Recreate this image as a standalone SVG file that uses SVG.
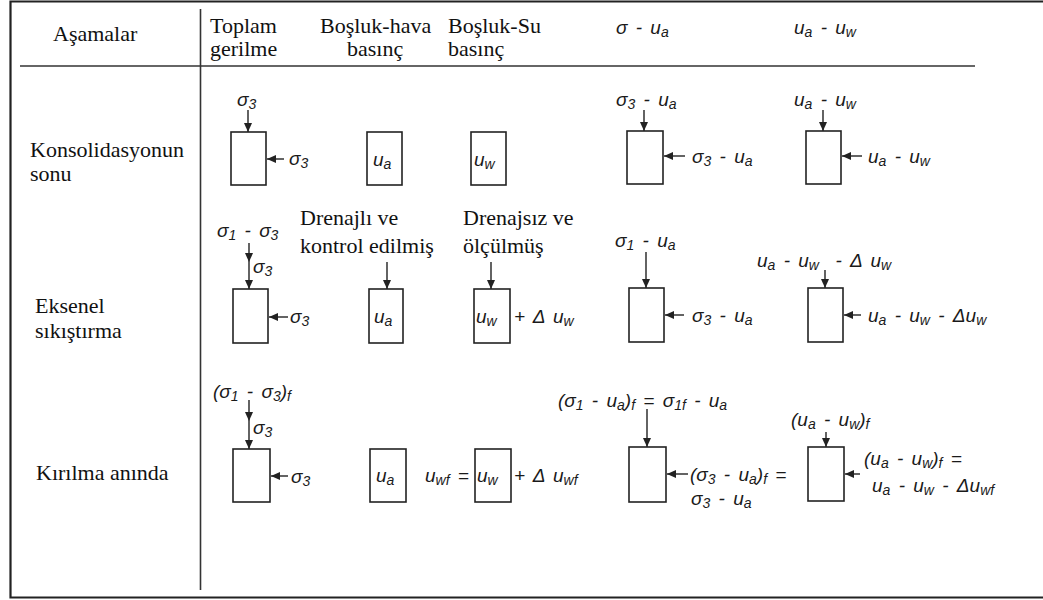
<svg xmlns="http://www.w3.org/2000/svg" width="1043" height="600" viewBox="0 0 1043 600">
<style>
.s{font-family:"Liberation Serif","Times New Roman",serif;font-size:22px;fill:#111}
.m{font-family:"Liberation Sans",Arial,sans-serif;font-style:italic;font-size:19px;fill:#1a1a1a;white-space:pre;word-spacing:3px}
.sb{font-size:14px}
.box{fill:none;stroke:#222;stroke-width:1.6}
.frame{stroke:#222;stroke-width:2.2;fill:none}
.rule{stroke:#333;stroke-width:1.6;fill:none}
.arr{stroke:#222;stroke-width:1.4;fill:none;marker-end:url(#ah)}
</style>
<defs>
<marker id="ah" markerUnits="userSpaceOnUse" markerWidth="9" markerHeight="8" refX="9" refY="4" orient="auto">
<path d="M0,0 L9,4 L0,8 z" fill="#222"/>
</marker>
</defs>
<rect width="1043" height="600" fill="#fff"/>
<g id="frame">
<path class="frame" d="M1043,1.5 H10.5 V597.5 H1043"/>
<line class="rule" x1="20" y1="66" x2="975" y2="66"/>
<line class="rule" x1="200.5" y1="9" x2="200.5" y2="590"/>
</g>
<g id="header">
<text class="s" x="53" y="41">Aşamalar</text>
<text class="s" x="210" y="33">Toplam</text>
<text class="s" x="210" y="56">gerilme</text>
<text class="s" x="320" y="33">Boşluk-hava</text>
<text class="s" x="347" y="56">basınç</text>
<text class="s" x="448" y="33">Boşluk-Su</text>
<text class="s" x="448" y="56">basınç</text>
<text class="m" x="616" y="34">σ - u<tspan class="sb" dy="3">a</tspan></text>
<text class="m" x="794" y="34">u<tspan class="sb" dy="3">a</tspan><tspan dy="-3"> - u</tspan><tspan class="sb" dy="3">w</tspan></text>
</g>
<g id="row-labels">
<text class="s" x="30" y="157">Konsolidasyonun</text>
<text class="s" x="30" y="181">sonu</text>
<text class="s" x="35" y="313">Eksenel</text>
<text class="s" x="35" y="338">sıkıştırma</text>
<text class="s" x="36" y="480">Kırılma anında</text>
</g>
<g id="connectors">
<line class="arr" x1="248" y1="110" x2="248" y2="132"/>
<line class="arr" x1="284" y1="159" x2="267" y2="159"/>
<line class="arr" x1="644" y1="110" x2="644" y2="131"/>
<line class="arr" x1="685" y1="156" x2="664" y2="156"/>
<line class="arr" x1="823" y1="110" x2="823" y2="131"/>
<line class="arr" x1="862" y1="156" x2="842" y2="156"/>
<line class="arr" x1="249" y1="243" x2="249" y2="262"/>
<line class="arr" x1="249" y1="262" x2="249" y2="289"/>
<line class="arr" x1="288" y1="317" x2="269" y2="317"/>
<line class="arr" x1="387" y1="262" x2="387" y2="289"/>
<line class="arr" x1="491" y1="262" x2="491" y2="289"/>
<line class="arr" x1="646" y1="252" x2="646" y2="288"/>
<line class="arr" x1="684" y1="315" x2="665" y2="315"/>
<line class="arr" x1="825" y1="270" x2="825" y2="288"/>
<line class="arr" x1="861" y1="315" x2="844" y2="315"/>
<line class="arr" x1="249" y1="400" x2="249" y2="421"/>
<line class="arr" x1="249" y1="421" x2="249" y2="449"/>
<line class="arr" x1="288" y1="476" x2="271" y2="476"/>
<line class="arr" x1="647" y1="409" x2="647" y2="447"/>
<line class="arr" x1="688" y1="474" x2="667" y2="474"/>
<line class="arr" x1="826" y1="432" x2="826" y2="447"/>
<line class="arr" x1="860" y1="474" x2="845" y2="474"/>
</g>
<g id="r1-total">
<rect class="box" x="231" y="132" width="35" height="53"/>
<text class="m" x="237" y="106">σ<tspan class="sb" dy="3">3</tspan></text>
<text class="m" x="289" y="165">σ<tspan class="sb" dy="3">3</tspan></text>
</g>
<g id="r1-air">
<rect class="box" x="367" y="132" width="35" height="53"/>
<text class="m" x="373" y="166">u<tspan class="sb" dy="3">a</tspan></text>
</g>
<g id="r1-water">
<rect class="box" x="471" y="132" width="35" height="53"/>
<text class="m" x="474" y="166">u<tspan class="sb" dy="3">w</tspan></text>
</g>
<g id="r1-net">
<rect class="box" x="627" y="131" width="36" height="53"/>
<text class="m" x="616" y="106">σ<tspan class="sb" dy="3">3</tspan><tspan dy="-3"> - u</tspan><tspan class="sb" dy="3">a</tspan></text>
<text class="m" x="692" y="163">σ<tspan class="sb" dy="3">3</tspan><tspan dy="-3"> - u</tspan><tspan class="sb" dy="3">a</tspan></text>
</g>
<g id="r1-suction">
<rect class="box" x="806" y="131" width="35" height="53"/>
<text class="m" x="794" y="106">u<tspan class="sb" dy="3">a</tspan><tspan dy="-3"> - u</tspan><tspan class="sb" dy="3">w</tspan></text>
<text class="m" x="868" y="163">u<tspan class="sb" dy="3">a</tspan><tspan dy="-3"> - u</tspan><tspan class="sb" dy="3">w</tspan></text>
</g>
<g id="r2-total">
<rect class="box" x="233" y="289" width="35" height="54"/>
<text class="m" x="217" y="237">σ<tspan class="sb" dy="3">1</tspan><tspan dy="-3"> - σ</tspan><tspan class="sb" dy="3">3</tspan></text>
<text class="m" x="253" y="273">σ<tspan class="sb" dy="3">3</tspan></text>
<text class="m" x="290" y="323">σ<tspan class="sb" dy="3">3</tspan></text>
</g>
<g id="r2-air">
<rect class="box" x="369" y="289" width="34" height="54"/>
<text class="s" x="300" y="225">Drenajlı ve</text>
<text class="s" x="300" y="253">kontrol edilmiş</text>
<text class="m" x="374" y="323">u<tspan class="sb" dy="3">a</tspan></text>
</g>
<g id="r2-water">
<rect class="box" x="474" y="289" width="36" height="54"/>
<text class="s" x="463" y="225">Drenajsız ve</text>
<text class="s" x="463" y="253">ölçülmüş</text>
<text class="m" x="476" y="323">u<tspan class="sb" dy="3">w</tspan></text>
<text class="m" x="514" y="323">+ Δ u<tspan class="sb" dy="3">w</tspan></text>
</g>
<g id="r2-net">
<rect class="box" x="629" y="288" width="35" height="54"/>
<text class="m" x="615" y="247">σ<tspan class="sb" dy="3">1</tspan><tspan dy="-3"> - u</tspan><tspan class="sb" dy="3">a</tspan></text>
<text class="m" x="692" y="322">σ<tspan class="sb" dy="3">3</tspan><tspan dy="-3"> - u</tspan><tspan class="sb" dy="3">a</tspan></text>
</g>
<g id="r2-suction">
<rect class="box" x="808" y="288" width="35" height="54"/>
<text class="m" x="757" y="267">u<tspan class="sb" dy="3">a</tspan><tspan dy="-3"> - u</tspan><tspan class="sb" dy="3">w</tspan><tspan dy="-3">  - Δ u</tspan><tspan class="sb" dy="3">w</tspan></text>
<text class="m" x="868" y="322">u<tspan class="sb" dy="3">a</tspan><tspan dy="-3"> - u</tspan><tspan class="sb" dy="3">w</tspan><tspan dy="-3"> - Δu</tspan><tspan class="sb" dy="3">w</tspan></text>
</g>
<g id="r3-total">
<rect class="box" x="233" y="449" width="37" height="53"/>
<text class="m" x="213" y="398">(σ<tspan class="sb" dy="3">1</tspan><tspan dy="-3"> - σ</tspan><tspan class="sb" dy="3">3</tspan><tspan dy="-3">)</tspan><tspan class="sb" dy="3">f</tspan></text>
<text class="m" x="253" y="434">σ<tspan class="sb" dy="3">3</tspan></text>
<text class="m" x="291" y="483">σ<tspan class="sb" dy="3">3</tspan></text>
</g>
<g id="r3-air">
<rect class="box" x="370" y="449" width="36" height="53"/>
<text class="m" x="376" y="482">u<tspan class="sb" dy="3">a</tspan></text>
</g>
<g id="r3-water">
<rect class="box" x="475" y="449" width="36" height="53"/>
<text class="m" x="425" y="482">u<tspan class="sb" dy="3">wf</tspan><tspan dy="-3"> =</tspan></text>
<text class="m" x="477" y="482">u<tspan class="sb" dy="3">w</tspan></text>
<text class="m" x="514" y="482">+ Δ u<tspan class="sb" dy="3">wf</tspan></text>
</g>
<g id="r3-net">
<rect class="box" x="629" y="447" width="37" height="55"/>
<text class="m" x="558" y="407">(σ<tspan class="sb" dy="3">1</tspan><tspan dy="-3"> - u</tspan><tspan class="sb" dy="3">a</tspan><tspan dy="-3">)</tspan><tspan class="sb" dy="3">f</tspan><tspan dy="-3"> = σ</tspan><tspan class="sb" dy="3">1f</tspan><tspan dy="-3"> - u</tspan><tspan class="sb" dy="3">a</tspan></text>
<text class="m" x="690" y="481">(σ<tspan class="sb" dy="3">3</tspan><tspan dy="-3"> - u</tspan><tspan class="sb" dy="3">a</tspan><tspan dy="-3">)</tspan><tspan class="sb" dy="3">f</tspan><tspan dy="-3"> =</tspan></text>
<text class="m" x="691" y="505">σ<tspan class="sb" dy="3">3</tspan><tspan dy="-3"> - u</tspan><tspan class="sb" dy="3">a</tspan></text>
</g>
<g id="r3-suction">
<rect class="box" x="808" y="447" width="36" height="54"/>
<text class="m" x="791" y="426">(u<tspan class="sb" dy="3">a</tspan><tspan dy="-3"> - u</tspan><tspan class="sb" dy="3">w</tspan><tspan dy="-3">)</tspan><tspan class="sb" dy="3">f</tspan></text>
<text class="m" x="864" y="465">(u<tspan class="sb" dy="3">a</tspan><tspan dy="-3"> - u</tspan><tspan class="sb" dy="3">w</tspan><tspan dy="-3">)</tspan><tspan class="sb" dy="3">f</tspan><tspan dy="-3"> =</tspan></text>
<text class="m" x="872" y="492">u<tspan class="sb" dy="3">a</tspan><tspan dy="-3"> - u</tspan><tspan class="sb" dy="3">w</tspan><tspan dy="-3"> - Δu</tspan><tspan class="sb" dy="3">wf</tspan></text>
</g>
</svg>
